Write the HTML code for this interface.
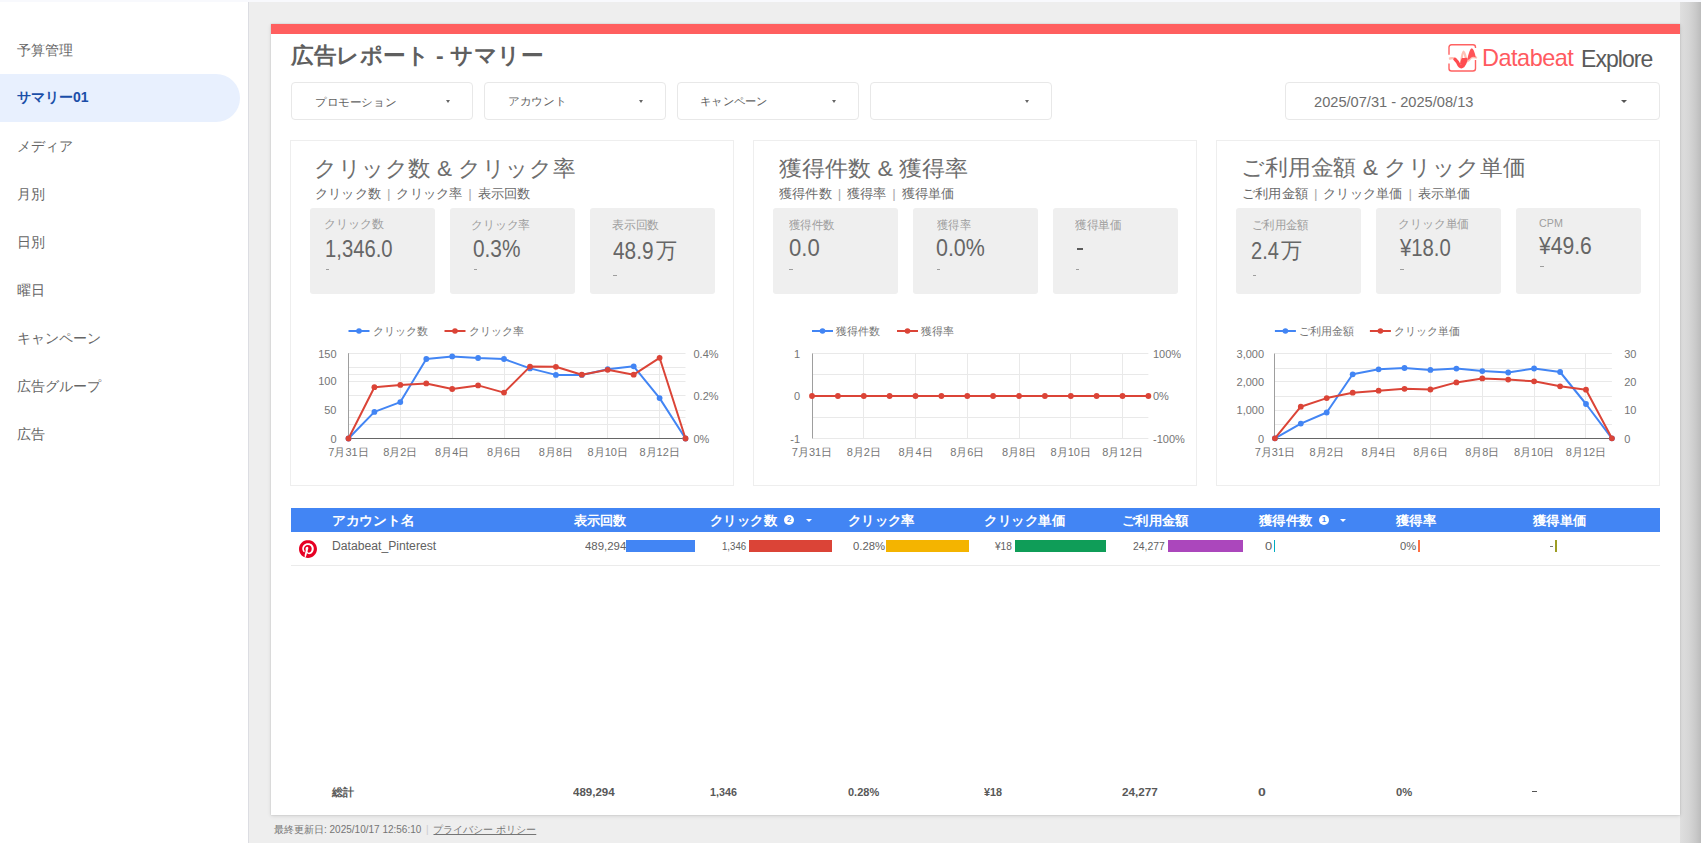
<!DOCTYPE html><html><head><meta charset="utf-8"><title>広告レポート - サマリー</title><style>
*{margin:0;padding:0;box-sizing:border-box}
html,body{width:1701px;height:843px;overflow:hidden;background:#eeeeee;font-family:"Liberation Sans", sans-serif}
.t{position:absolute;white-space:nowrap;line-height:1}
.abs{position:absolute}
.sx{transform-origin:0 0}
</style></head><body>
<div class="abs" style="left:1680px;top:0;width:21px;height:843px;background:linear-gradient(to right,#dfdfdf 0px,#d6d6d6 9px,#c9c9c9 16px,#bcbcbc 21px)"></div>
<div class="abs" style="left:0;top:0;width:1701px;height:2px;background:#f8f9fd"></div>
<div class="abs" style="left:0;top:2px;width:249px;height:841px;background:#fff;border-right:1px solid #dcdde2"></div>
<div class="abs" style="left:0;top:74px;width:240px;height:48px;background:#e8f0fe;border-radius:0 24px 24px 0"></div>
<div class="t" style="left:17px;top:42.5px;font-size:14px;color:#666666;font-weight:normal;">予算管理</div>
<div class="t" style="left:17px;top:90px;font-size:14px;color:#1a4ea8;font-weight:bold;">サマリー01</div>
<div class="t" style="left:17px;top:138.5px;font-size:14px;color:#666666;font-weight:normal;">メディア</div>
<div class="t" style="left:17px;top:186.5px;font-size:14px;color:#666666;font-weight:normal;">月別</div>
<div class="t" style="left:17px;top:234.5px;font-size:14px;color:#666666;font-weight:normal;">日別</div>
<div class="t" style="left:17px;top:282.5px;font-size:14px;color:#666666;font-weight:normal;">曜日</div>
<div class="t" style="left:17px;top:330.5px;font-size:14px;color:#666666;font-weight:normal;">キャンペーン</div>
<div class="t" style="left:17px;top:378.5px;font-size:14px;color:#666666;font-weight:normal;">広告グループ</div>
<div class="t" style="left:17px;top:426.5px;font-size:14px;color:#666666;font-weight:normal;">広告</div>
<div class="abs" style="left:271px;top:24px;width:1409px;height:791px;background:#fff;box-shadow:0 0 1.5px rgba(0,0,0,.14),0 1px 4px rgba(0,0,0,.12)"></div>
<div class="abs" style="left:271px;top:24px;width:1409px;height:10px;background:#ff5f5f"></div>
<div class="t" style="left:291.00px;top:45.00px;font-size:22.4px;color:#5f5f5f;font-weight:bold;transform:scaleX(1.0266);transform-origin:0 0;">広告レポート - サマリー</div>
<div class="abs" style="left:291px;top:82px;width:182px;height:38px;border:1px solid #e8e8e8;border-radius:4px;background:#fff"></div>
<div class="t" style="left:314.50px;top:97.00px;font-size:11.4px;color:#616161;font-weight:normal;transform:scaleX(1.0564);transform-origin:0 0;">プロモーション</div>
<div class="abs" style="left:445.8px;top:100px;width:0;height:0;border-left:2.5px solid transparent;border-right:2.5px solid transparent;border-top:3px solid #666"></div>
<div class="abs" style="left:484px;top:82px;width:182px;height:38px;border:1px solid #e8e8e8;border-radius:4px;background:#fff"></div>
<div class="t" style="left:508.00px;top:95.50px;font-size:11.4px;color:#616161;font-weight:normal;transform:scaleX(1.0577);transform-origin:0 0;">アカウント</div>
<div class="abs" style="left:638.7px;top:100px;width:0;height:0;border-left:2.5px solid transparent;border-right:2.5px solid transparent;border-top:3px solid #666"></div>
<div class="abs" style="left:677px;top:82px;width:182px;height:38px;border:1px solid #e8e8e8;border-radius:4px;background:#fff"></div>
<div class="t" style="left:699.50px;top:96.00px;font-size:11.4px;color:#616161;font-weight:normal;transform:scaleX(1.0256);transform-origin:0 0;">キャンペーン</div>
<div class="abs" style="left:832.1px;top:100px;width:0;height:0;border-left:2.5px solid transparent;border-right:2.5px solid transparent;border-top:3px solid #666"></div>
<div class="abs" style="left:870px;top:82px;width:182px;height:38px;border:1px solid #e8e8e8;border-radius:4px;background:#fff"></div>
<div class="abs" style="left:1024.8px;top:100px;width:0;height:0;border-left:2.5px solid transparent;border-right:2.5px solid transparent;border-top:3px solid #666"></div>
<div class="abs" style="left:1285px;top:82px;width:375px;height:38px;border:1px solid #e8e8e8;border-radius:4px;background:#fff"></div>
<div class="t" style="left:1314.00px;top:94.50px;font-size:14px;color:#6e6e6e;font-weight:normal;transform:scaleX(1.0448);transform-origin:0 0;">2025/07/31 - 2025/08/13</div>
<div class="abs" style="left:1621.3px;top:99.5px;width:0;height:0;border-left:3.5px solid transparent;border-right:3.5px solid transparent;border-top:3.5px solid #555"></div>
<svg class="abs" style="left:1445px;top:41px" width="35" height="34" viewBox="0 0 35 34">
<path d="M4 13.7 V6.3 Q4 3.8 6.5 3.8 H28 Q30.5 3.8 30.5 6.3 V7" fill="none" stroke="#ff6262" stroke-width="1.4"/>
<path d="M4 22.6 V27.5 Q4 30 6.5 30 H28 Q30.5 30 30.5 27.5 V19" fill="none" stroke="#ff6262" stroke-width="1.4"/>
<path d="M5 17.5 Q8 16.5 10 18 M16 22 Q17.5 11 18.4 10.8 Q19.5 11 21 18 M21.5 20.5 Q24 20 26 16.5 Q28.5 15.5 31 16.5" fill="none" stroke="#ffc0b5" stroke-width="2.4" stroke-linecap="round"/>
<path d="M10 18.3 Q12 20 14 24 Q15.8 26.8 18 25 Q20 23 21 18.5" fill="none" stroke="#ff4c50" stroke-width="3.4" stroke-linecap="round"/>
<path d="M15 23 Q16 18 17 17 L20.8 17 Q20.5 22 18 25 Z" fill="#ff4c50"/>
<path d="M22.3 18.5 Q24.5 7.5 26.8 7.2 Q29 7.5 30.8 16.5 Q28 15 25.5 17 Q24 19.5 22.3 18.5Z" fill="#ff5458"/>
</svg><div class="t" style="left:1482.30px;top:46.40px;font-size:24px;color:#ff5a5f;font-weight:normal;transform:scaleX(0.9785);transform-origin:0 0;letter-spacing:-0.5px">Databeat</div>
<div class="t" style="left:1580.60px;top:46.60px;font-size:24px;color:#5a5a5a;font-weight:normal;transform:scaleX(0.9591);transform-origin:0 0;letter-spacing:-1px">Explore</div>
<div class="abs" style="left:290.4px;top:140px;width:444px;height:346px;border:1px solid #eeeeee;background:#fff"></div>
<div class="t" style="left:314.20px;top:158.40px;font-size:22px;color:#6e6e6e;font-weight:normal;transform:scaleX(1.0243);transform-origin:0 0;">クリック数 &amp; クリック率</div>
<div class="t" style="left:315.20px;top:187.40px;font-size:13.3px;color:#6a6a6a;font-weight:normal;transform:scaleX(1.0182);transform-origin:0 0;">クリック数<span style="color:#aaa;margin:0 2px"> | </span>クリック率<span style="color:#aaa;margin:0 2px"> | </span>表示回数</div>
<div class="abs" style="left:309.7px;top:208px;width:125.3px;height:86px;background:#efefef;border-radius:3px"></div>
<div class="t" style="left:323.80px;top:219.40px;font-size:11.8px;color:#9e9e9e;font-weight:normal;transform:scaleX(1.0009);transform-origin:0 0;">クリック数</div>
<div class="t" style="left:324.60px;top:237.80px;font-size:23.6px;color:#666666;font-weight:normal;transform:scaleX(0.8580);transform-origin:0 0;">1,346.0</div>
<div class="abs" style="left:325.9px;top:268.8px;width:3.5px;height:1px;background:#9e9e9e"></div>
<div class="abs" style="left:449.7px;top:208px;width:125.3px;height:86px;background:#efefef;border-radius:3px"></div>
<div class="t" style="left:471.20px;top:220.00px;font-size:11.8px;color:#9e9e9e;font-weight:normal;transform:scaleX(0.9864);transform-origin:0 0;">クリック率</div>
<div class="t" style="left:473.20px;top:237.60px;font-size:23.6px;color:#666666;font-weight:normal;transform:scaleX(0.8817);transform-origin:0 0;">0.3%</div>
<div class="abs" style="left:473.6px;top:268.8px;width:3.5px;height:1px;background:#9e9e9e"></div>
<div class="abs" style="left:589.7px;top:208px;width:125.3px;height:86px;background:#efefef;border-radius:3px"></div>
<div class="t" style="left:612.40px;top:220.00px;font-size:11.8px;color:#9e9e9e;font-weight:normal;transform:scaleX(0.9796);transform-origin:0 0;">表示回数</div>
<div class="t" style="left:613.00px;top:240.40px;font-size:23.6px;color:#666666;font-weight:normal;transform:scaleX(0.8821);transform-origin:0 0;">48.9</div>
<div class="t" style="left:655.80px;top:240.10px;font-size:22px;color:#666666;font-weight:normal;transform:scaleX(0.9554);transform-origin:0 0;">万</div>
<div class="abs" style="left:613px;top:274.8px;width:3.5px;height:1px;background:#9e9e9e"></div>
<div class="abs" style="left:753.4px;top:140px;width:444px;height:346px;border:1px solid #eeeeee;background:#fff"></div>
<div class="t" style="left:779.20px;top:158.40px;font-size:22px;color:#6e6e6e;font-weight:normal;transform:scaleX(1.0469);transform-origin:0 0;">獲得件数 &amp; 獲得率</div>
<div class="t" style="left:779.20px;top:187.40px;font-size:13.3px;color:#6a6a6a;font-weight:normal;transform:scaleX(1.0162);transform-origin:0 0;">獲得件数<span style="color:#aaa;margin:0 2px"> | </span>獲得率<span style="color:#aaa;margin:0 2px"> | </span>獲得単価</div>
<div class="abs" style="left:772.7px;top:208px;width:125.3px;height:86px;background:#efefef;border-radius:3px"></div>
<div class="t" style="left:788.80px;top:220.00px;font-size:11.8px;color:#9e9e9e;font-weight:normal;transform:scaleX(0.9550);transform-origin:0 0;">獲得件数</div>
<div class="t" style="left:788.80px;top:237.20px;font-size:23.6px;color:#666666;font-weight:normal;transform:scaleX(0.9365);transform-origin:0 0;">0.0</div>
<div class="abs" style="left:789px;top:268.8px;width:3.5px;height:1px;background:#9e9e9e"></div>
<div class="abs" style="left:912.7px;top:208px;width:125.3px;height:86px;background:#efefef;border-radius:3px"></div>
<div class="t" style="left:936.60px;top:220.00px;font-size:11.8px;color:#9e9e9e;font-weight:normal;transform:scaleX(0.9391);transform-origin:0 0;">獲得率</div>
<div class="t" style="left:936.40px;top:237.20px;font-size:23.6px;color:#666666;font-weight:normal;transform:scaleX(0.9083);transform-origin:0 0;">0.0%</div>
<div class="abs" style="left:936.7px;top:268.8px;width:3.5px;height:1px;background:#9e9e9e"></div>
<div class="abs" style="left:1052.7px;top:208px;width:125.3px;height:86px;background:#efefef;border-radius:3px"></div>
<div class="t" style="left:1075.40px;top:220.00px;font-size:11.8px;color:#9e9e9e;font-weight:normal;transform:scaleX(0.9787);transform-origin:0 0;">獲得単価</div>
<div class="abs" style="left:1077px;top:247.6px;width:6.3px;height:2px;background:#5a5a5a"></div>
<div class="abs" style="left:1075.7px;top:268.8px;width:3.5px;height:1px;background:#9e9e9e"></div>
<div class="abs" style="left:1216.4px;top:140px;width:444px;height:346px;border:1px solid #eeeeee;background:#fff"></div>
<div class="t" style="left:1241.20px;top:157.40px;font-size:22px;color:#6e6e6e;font-weight:normal;transform:scaleX(1.0389);transform-origin:0 0;">ご利用金額 &amp; クリック単価</div>
<div class="t" style="left:1242.20px;top:187.40px;font-size:13.3px;color:#6a6a6a;font-weight:normal;transform:scaleX(1.0174);transform-origin:0 0;">ご利用金額<span style="color:#aaa;margin:0 2px"> | </span>クリック単価<span style="color:#aaa;margin:0 2px"> | </span>表示単価</div>
<div class="abs" style="left:1235.7px;top:208px;width:125.3px;height:86px;background:#efefef;border-radius:3px"></div>
<div class="t" style="left:1252.20px;top:220.40px;font-size:11.8px;color:#9e9e9e;font-weight:normal;transform:scaleX(0.9466);transform-origin:0 0;">ご利用金額</div>
<div class="t" style="left:1251.00px;top:240.40px;font-size:23.6px;color:#666666;font-weight:normal;transform:scaleX(0.8487);transform-origin:0 0;">2.4</div>
<div class="t" style="left:1281.30px;top:239.80px;font-size:22px;color:#666666;font-weight:normal;transform:scaleX(0.9552);transform-origin:0 0;">万</div>
<div class="abs" style="left:1252.5px;top:275.0px;width:3.5px;height:1px;background:#9e9e9e"></div>
<div class="abs" style="left:1375.7px;top:208px;width:125.3px;height:86px;background:#efefef;border-radius:3px"></div>
<div class="t" style="left:1398.20px;top:219.00px;font-size:11.8px;color:#9e9e9e;font-weight:normal;transform:scaleX(0.9902);transform-origin:0 0;">クリック単価</div>
<div class="t" style="left:1400.20px;top:237.20px;font-size:23.6px;color:#666666;font-weight:normal;transform:scaleX(0.8604);transform-origin:0 0;">¥18.0</div>
<div class="abs" style="left:1400.1px;top:268.7px;width:3.5px;height:1px;background:#9e9e9e"></div>
<div class="abs" style="left:1515.7px;top:208px;width:125.3px;height:86px;background:#efefef;border-radius:3px"></div>
<div class="t" style="left:1539.00px;top:218.00px;font-size:11px;color:#9e9e9e;font-weight:normal;transform:scaleX(0.9745);transform-origin:0 0;">CPM</div>
<div class="t" style="left:1539.00px;top:234.60px;font-size:23.6px;color:#666666;font-weight:normal;transform:scaleX(0.8941);transform-origin:0 0;">¥49.6</div>
<div class="abs" style="left:1540px;top:265.7px;width:3.5px;height:1px;background:#9e9e9e"></div>
<div class="abs" style="left:291px;top:508px;width:1369px;height:24px;background:#4285f4"></div>
<div class="abs" style="left:291px;top:565px;width:1369px;height:1px;background:#ebebeb"></div>
<div class="t" style="left:331.50px;top:514.00px;font-size:13.2px;color:#ffffff;font-weight:bold;transform:scaleX(1.0555);transform-origin:0 0;">アカウント名</div>
<div class="t" style="left:573.50px;top:514.00px;font-size:13.2px;color:#ffffff;font-weight:bold;transform:scaleX(1.0125);transform-origin:0 0;">表示回数</div>
<div class="t" style="left:709.50px;top:514.00px;font-size:13.2px;color:#ffffff;font-weight:bold;transform:scaleX(1.0322);transform-origin:0 0;">クリック数</div>
<div class="t" style="left:847.50px;top:514.00px;font-size:13.2px;color:#ffffff;font-weight:bold;transform:scaleX(1.0288);transform-origin:0 0;">クリック率</div>
<div class="t" style="left:984.00px;top:514.00px;font-size:13.2px;color:#ffffff;font-weight:bold;transform:scaleX(1.0390);transform-origin:0 0;">クリック単価</div>
<div class="t" style="left:1121.50px;top:514.00px;font-size:13.2px;color:#ffffff;font-weight:bold;transform:scaleX(1.0250);transform-origin:0 0;">ご利用金額</div>
<div class="t" style="left:1258.50px;top:514.00px;font-size:13.2px;color:#ffffff;font-weight:bold;transform:scaleX(1.0313);transform-origin:0 0;">獲得件数</div>
<div class="t" style="left:1396.00px;top:514.00px;font-size:13.2px;color:#ffffff;font-weight:bold;transform:scaleX(1.0287);transform-origin:0 0;">獲得率</div>
<div class="t" style="left:1533.00px;top:514.00px;font-size:13.2px;color:#ffffff;font-weight:bold;transform:scaleX(1.0315);transform-origin:0 0;">獲得単価</div>
<div class="abs" style="left:784.2px;top:515px;width:10px;height:10px;border-radius:5px;background:#fff;color:#4285f4;font-size:8px;font-weight:bold;line-height:10px;text-align:center">2</div>
<div class="abs" style="left:1319px;top:515px;width:10px;height:10px;border-radius:5px;background:#fff;color:#4285f4;font-size:8px;font-weight:bold;line-height:10px;text-align:center">1</div>
<div class="abs" style="left:805.5px;top:518.5px;width:0;height:0;border-left:3.0px solid transparent;border-right:3.0px solid transparent;border-top:3.5px solid #fff"></div>
<div class="abs" style="left:1340.3px;top:518.5px;width:0;height:0;border-left:3.0px solid transparent;border-right:3.0px solid transparent;border-top:3.5px solid #fff"></div>
<svg class="abs" style="left:298.8px;top:539.8px" width="18" height="18" viewBox="0 0 24 24"><path fill="#e60023" d="M12.017 0C5.396 0 .029 5.367.029 11.987c0 5.079 3.158 9.417 7.618 11.162-.105-.949-.199-2.403.041-3.439.219-.937 1.406-5.957 1.406-5.957s-.359-.72-.359-1.781c0-1.663.967-2.911 2.168-2.911 1.024 0 1.518.769 1.518 1.688 0 1.029-.653 2.567-.992 3.992-.285 1.193.6 2.165 1.775 2.165 2.128 0 3.768-2.245 3.768-5.487 0-2.861-2.063-4.869-5.008-4.869-3.41 0-5.409 2.562-5.409 5.199 0 1.033.394 2.143.889 2.741.099.12.112.225.085.345-.09.375-.293 1.199-.334 1.363-.053.225-.172.271-.401.165-1.495-.69-2.433-2.878-2.433-4.646 0-3.776 2.748-7.252 7.92-7.252 4.158 0 7.392 2.967 7.392 6.923 0 4.135-2.607 7.462-6.233 7.462-1.214 0-2.354-.629-2.758-1.379l-.749 2.848c-.269 1.045-1.004 2.352-1.498 3.146 1.123.345 2.306.535 3.55.535 6.607 0 11.985-5.365 11.985-11.987C23.97 5.39 18.592.026 11.985.026L12.017 0z"/></svg>
<div class="t" style="left:331.50px;top:540.00px;font-size:12px;color:#616161;font-weight:normal;transform:scaleX(1.0140);transform-origin:0 0;">Databeat_Pinterest</div>
<div class="t" style="left:584.50px;top:540.00px;font-size:11.7px;color:#616161;font-weight:normal;transform:scaleX(0.9757);transform-origin:0 0;">489,294</div>
<div class="abs" style="left:626.2px;top:540px;width:68.8px;height:12px;background:#4285f4"></div>
<div class="t" style="left:721.50px;top:540.00px;font-size:11.7px;color:#616161;font-weight:normal;transform:scaleX(0.8254);transform-origin:0 0;">1,346</div>
<div class="abs" style="left:748.6px;top:540px;width:83.1px;height:12px;background:#db4437"></div>
<div class="t" style="left:852.50px;top:540.00px;font-size:11.7px;color:#616161;font-weight:normal;transform:scaleX(0.9677);transform-origin:0 0;">0.28%</div>
<div class="abs" style="left:886px;top:540px;width:82.5px;height:12px;background:#f4b400"></div>
<div class="t" style="left:995.00px;top:540.00px;font-size:11.7px;color:#616161;font-weight:normal;transform:scaleX(0.8653);transform-origin:0 0;">¥18</div>
<div class="abs" style="left:1015px;top:540px;width:91.0px;height:12px;background:#0f9d58"></div>
<div class="t" style="left:1133.00px;top:540.00px;font-size:11.7px;color:#616161;font-weight:normal;transform:scaleX(0.8877);transform-origin:0 0;">24,277</div>
<div class="abs" style="left:1167.6px;top:540px;width:75.1px;height:12px;background:#ab47bc"></div>
<div class="t" style="left:1264.50px;top:540.00px;font-size:11.7px;color:#616161;font-weight:normal;transform:scaleX(1.1064);transform-origin:0 0;">0</div>
<div class="abs" style="left:1273.5px;top:540px;width:1.5px;height:12px;background:#00acc1"></div>
<div class="t" style="left:1400.00px;top:540.00px;font-size:11.7px;color:#616161;font-weight:normal;transform:scaleX(0.9577);transform-origin:0 0;">0%</div>
<div class="abs" style="left:1418.3px;top:540px;width:1.5px;height:12px;background:#ff7043"></div>
<div class="abs" style="left:1549.5px;top:546px;width:3.3px;height:1px;background:#777"></div>
<div class="abs" style="left:1555.3px;top:540px;width:1.5px;height:12px;background:#9e9d24"></div>
<div class="t" style="left:332.00px;top:787.00px;font-size:10.5px;color:#585858;font-weight:bold;transform:scaleX(1.0092);transform-origin:0 0;">総計</div>
<div class="t" style="left:573.00px;top:786.50px;font-size:10.5px;color:#585858;font-weight:bold;transform:scaleX(1.0983);transform-origin:0 0;">489,294</div>
<div class="t" style="left:710.00px;top:786.50px;font-size:10.5px;color:#585858;font-weight:bold;transform:scaleX(1.0239);transform-origin:0 0;">1,346</div>
<div class="t" style="left:847.50px;top:786.50px;font-size:10.5px;color:#585858;font-weight:bold;transform:scaleX(1.0473);transform-origin:0 0;">0.28%</div>
<div class="t" style="left:984.00px;top:786.50px;font-size:10.5px;color:#585858;font-weight:bold;transform:scaleX(1.0287);transform-origin:0 0;">¥18</div>
<div class="t" style="left:1122.00px;top:786.50px;font-size:10.5px;color:#585858;font-weight:bold;transform:scaleX(1.1140);transform-origin:0 0;">24,277</div>
<div class="t" style="left:1257.50px;top:786.50px;font-size:10.5px;color:#585858;font-weight:bold;transform:scaleX(1.3321);transform-origin:0 0;">0</div>
<div class="t" style="left:1395.50px;top:786.50px;font-size:10.5px;color:#585858;font-weight:bold;transform:scaleX(1.0693);transform-origin:0 0;">0%</div>
<div class="abs" style="left:1532.4px;top:791px;width:4.2px;height:1.2px;background:#555"></div>
<div class="t" style="left:274px;top:824.5px;font-size:10px;color:#757575">最終更新日: 2025/10/17 12:56:10 <span style="color:#ccc;margin:0 2px">|</span> <span style="text-decoration:underline;text-underline-offset:1px">プライバシー ポリシー</span></div>
<svg class="abs" style="left:0;top:0" width="1701" height="843" viewBox="0 0 1701 843" font-family="Liberation Sans, sans-serif">
<line x1="348.5" y1="353.5" x2="685.5" y2="353.5" stroke="#e9e9e9" stroke-width="1"/>
<line x1="348.5" y1="367.5" x2="685.5" y2="367.5" stroke="#e9e9e9" stroke-width="1"/>
<line x1="348.5" y1="374.5" x2="685.5" y2="374.5" stroke="#e9e9e9" stroke-width="1"/>
<line x1="348.5" y1="381.5" x2="685.5" y2="381.5" stroke="#e9e9e9" stroke-width="1"/>
<line x1="348.5" y1="395.5" x2="685.5" y2="395.5" stroke="#e9e9e9" stroke-width="1"/>
<line x1="348.5" y1="410.5" x2="685.5" y2="410.5" stroke="#e9e9e9" stroke-width="1"/>
<line x1="348.5" y1="417.5" x2="685.5" y2="417.5" stroke="#e9e9e9" stroke-width="1"/>
<line x1="348.5" y1="424.5" x2="685.5" y2="424.5" stroke="#e9e9e9" stroke-width="1"/>
<line x1="400.5" y1="353.2" x2="400.5" y2="438.2" stroke="#e9e9e9" stroke-width="1"/>
<line x1="452.5" y1="353.2" x2="452.5" y2="438.2" stroke="#e9e9e9" stroke-width="1"/>
<line x1="504.5" y1="353.2" x2="504.5" y2="438.2" stroke="#e9e9e9" stroke-width="1"/>
<line x1="555.5" y1="353.2" x2="555.5" y2="438.2" stroke="#e9e9e9" stroke-width="1"/>
<line x1="607.5" y1="353.2" x2="607.5" y2="438.2" stroke="#e9e9e9" stroke-width="1"/>
<line x1="659.5" y1="353.2" x2="659.5" y2="438.2" stroke="#e9e9e9" stroke-width="1"/>
<line x1="348.5" y1="353.2" x2="348.5" y2="438.2" stroke="#9e9e9e" stroke-width="1"/>
<line x1="348.5" y1="438.5" x2="685.5" y2="438.5" stroke="#666" stroke-width="1"/>
<polyline points="348.5,438.5 374.4,411.9 400.3,402.1 426.3,359.0 452.2,356.4 478.1,358.0 504.0,359.0 530.0,368.4 555.9,374.9 581.8,374.9 607.7,369.2 633.7,366.3 659.6,398.1 685.5,438.5" fill="none" stroke="#4285f4" stroke-width="2" stroke-linejoin="round"/>
<circle cx="348.5" cy="438.5" r="2.9" fill="#4285f4"/>
<circle cx="374.4" cy="411.9" r="2.9" fill="#4285f4"/>
<circle cx="400.3" cy="402.1" r="2.9" fill="#4285f4"/>
<circle cx="426.3" cy="359.0" r="2.9" fill="#4285f4"/>
<circle cx="452.2" cy="356.4" r="2.9" fill="#4285f4"/>
<circle cx="478.1" cy="358.0" r="2.9" fill="#4285f4"/>
<circle cx="504.0" cy="359.0" r="2.9" fill="#4285f4"/>
<circle cx="530.0" cy="368.4" r="2.9" fill="#4285f4"/>
<circle cx="555.9" cy="374.9" r="2.9" fill="#4285f4"/>
<circle cx="581.8" cy="374.9" r="2.9" fill="#4285f4"/>
<circle cx="607.7" cy="369.2" r="2.9" fill="#4285f4"/>
<circle cx="633.7" cy="366.3" r="2.9" fill="#4285f4"/>
<circle cx="659.6" cy="398.1" r="2.9" fill="#4285f4"/>
<circle cx="685.5" cy="438.5" r="2.9" fill="#4285f4"/>
<polyline points="348.5,438.5 374.4,387.2 400.3,384.9 426.3,383.4 452.2,389.0 478.1,385.4 504.0,392.6 530.0,366.6 555.9,366.8 581.8,374.7 607.7,369.8 633.7,374.7 659.6,357.8 685.5,438.5" fill="none" stroke="#db4437" stroke-width="2" stroke-linejoin="round"/>
<circle cx="348.5" cy="438.5" r="2.9" fill="#db4437"/>
<circle cx="374.4" cy="387.2" r="2.9" fill="#db4437"/>
<circle cx="400.3" cy="384.9" r="2.9" fill="#db4437"/>
<circle cx="426.3" cy="383.4" r="2.9" fill="#db4437"/>
<circle cx="452.2" cy="389.0" r="2.9" fill="#db4437"/>
<circle cx="478.1" cy="385.4" r="2.9" fill="#db4437"/>
<circle cx="504.0" cy="392.6" r="2.9" fill="#db4437"/>
<circle cx="530.0" cy="366.6" r="2.9" fill="#db4437"/>
<circle cx="555.9" cy="366.8" r="2.9" fill="#db4437"/>
<circle cx="581.8" cy="374.7" r="2.9" fill="#db4437"/>
<circle cx="607.7" cy="369.8" r="2.9" fill="#db4437"/>
<circle cx="633.7" cy="374.7" r="2.9" fill="#db4437"/>
<circle cx="659.6" cy="357.8" r="2.9" fill="#db4437"/>
<circle cx="685.5" cy="438.5" r="2.9" fill="#db4437"/>
<text x="348.5" y="456" font-size="11" fill="#757575" text-anchor="middle">7月31日</text>
<text x="400.3" y="456" font-size="11" fill="#757575" text-anchor="middle">8月2日</text>
<text x="452.2" y="456" font-size="11" fill="#757575" text-anchor="middle">8月4日</text>
<text x="504.0" y="456" font-size="11" fill="#757575" text-anchor="middle">8月6日</text>
<text x="555.9" y="456" font-size="11" fill="#757575" text-anchor="middle">8月8日</text>
<text x="607.7" y="456" font-size="11" fill="#757575" text-anchor="middle">8月10日</text>
<text x="659.6" y="456" font-size="11" fill="#757575" text-anchor="middle">8月12日</text>
<text x="336.5" y="358.4" font-size="11" fill="#757575" text-anchor="end">150</text>
<text x="336.5" y="385.4" font-size="11" fill="#757575" text-anchor="end">100</text>
<text x="336.5" y="414" font-size="11" fill="#757575" text-anchor="end">50</text>
<text x="336.5" y="442.8" font-size="11" fill="#757575" text-anchor="end">0</text>
<text x="693.5" y="358.4" font-size="11" fill="#757575">0.4%</text>
<text x="693.5" y="400" font-size="11" fill="#757575">0.2%</text>
<text x="693.5" y="442.8" font-size="11" fill="#757575">0%</text>
<line x1="348.5" y1="331" x2="369.5" y2="331" stroke="#4285f4" stroke-width="2"/>
<circle cx="359.0" cy="331" r="2.8" fill="#4285f4"/>
<text x="372.8" y="335" font-size="10.6" fill="#757575">クリック数</text>
<line x1="444.5" y1="331" x2="465.5" y2="331" stroke="#db4437" stroke-width="2"/>
<circle cx="455.0" cy="331" r="2.8" fill="#db4437"/>
<text x="468.8" y="335" font-size="10.6" fill="#757575">クリック率</text>
<line x1="812" y1="353.5" x2="1148.4" y2="353.5" stroke="#e9e9e9" stroke-width="1"/>
<line x1="812" y1="374.5" x2="1148.4" y2="374.5" stroke="#e9e9e9" stroke-width="1"/>
<line x1="812" y1="417.5" x2="1148.4" y2="417.5" stroke="#e9e9e9" stroke-width="1"/>
<line x1="812" y1="438.5" x2="1148.4" y2="438.5" stroke="#e9e9e9" stroke-width="1"/>
<line x1="863.5" y1="353.5" x2="863.5" y2="438.4" stroke="#e9e9e9" stroke-width="1"/>
<line x1="915.5" y1="353.5" x2="915.5" y2="438.4" stroke="#e9e9e9" stroke-width="1"/>
<line x1="967.5" y1="353.5" x2="967.5" y2="438.4" stroke="#e9e9e9" stroke-width="1"/>
<line x1="1019.5" y1="353.5" x2="1019.5" y2="438.4" stroke="#e9e9e9" stroke-width="1"/>
<line x1="1070.5" y1="353.5" x2="1070.5" y2="438.4" stroke="#e9e9e9" stroke-width="1"/>
<line x1="1122.5" y1="353.5" x2="1122.5" y2="438.4" stroke="#e9e9e9" stroke-width="1"/>
<line x1="812.5" y1="353.5" x2="812.5" y2="438.4" stroke="#9e9e9e" stroke-width="1"/>
<polyline points="812.0,396.0 837.9,396.0 863.8,396.0 889.6,396.0 915.5,396.0 941.4,396.0 967.3,396.0 993.1,396.0 1019.0,396.0 1044.9,396.0 1070.8,396.0 1096.6,396.0 1122.5,396.0 1148.4,396.0" fill="none" stroke="#db4437" stroke-width="2" stroke-linejoin="round"/>
<circle cx="812.0" cy="396.0" r="2.9" fill="#db4437"/>
<circle cx="837.9" cy="396.0" r="2.9" fill="#db4437"/>
<circle cx="863.8" cy="396.0" r="2.9" fill="#db4437"/>
<circle cx="889.6" cy="396.0" r="2.9" fill="#db4437"/>
<circle cx="915.5" cy="396.0" r="2.9" fill="#db4437"/>
<circle cx="941.4" cy="396.0" r="2.9" fill="#db4437"/>
<circle cx="967.3" cy="396.0" r="2.9" fill="#db4437"/>
<circle cx="993.1" cy="396.0" r="2.9" fill="#db4437"/>
<circle cx="1019.0" cy="396.0" r="2.9" fill="#db4437"/>
<circle cx="1044.9" cy="396.0" r="2.9" fill="#db4437"/>
<circle cx="1070.8" cy="396.0" r="2.9" fill="#db4437"/>
<circle cx="1096.6" cy="396.0" r="2.9" fill="#db4437"/>
<circle cx="1122.5" cy="396.0" r="2.9" fill="#db4437"/>
<circle cx="1148.4" cy="396.0" r="2.9" fill="#db4437"/>
<text x="812.0" y="456" font-size="11" fill="#757575" text-anchor="middle">7月31日</text>
<text x="863.8" y="456" font-size="11" fill="#757575" text-anchor="middle">8月2日</text>
<text x="915.5" y="456" font-size="11" fill="#757575" text-anchor="middle">8月4日</text>
<text x="967.3" y="456" font-size="11" fill="#757575" text-anchor="middle">8月6日</text>
<text x="1019.0" y="456" font-size="11" fill="#757575" text-anchor="middle">8月8日</text>
<text x="1070.8" y="456" font-size="11" fill="#757575" text-anchor="middle">8月10日</text>
<text x="1122.5" y="456" font-size="11" fill="#757575" text-anchor="middle">8月12日</text>
<text x="800" y="358.2" font-size="11" fill="#757575" text-anchor="end">1</text>
<text x="800" y="400" font-size="11" fill="#757575" text-anchor="end">0</text>
<text x="800" y="442.9" font-size="11" fill="#757575" text-anchor="end">-1</text>
<text x="1153.0" y="358.2" font-size="11" fill="#757575">100%</text>
<text x="1153.0" y="400" font-size="11" fill="#757575">0%</text>
<text x="1153.0" y="442.9" font-size="11" fill="#757575">-100%</text>
<line x1="812" y1="331" x2="833" y2="331" stroke="#4285f4" stroke-width="2"/>
<circle cx="822.5" cy="331" r="2.8" fill="#4285f4"/>
<text x="836.3" y="335" font-size="10.6" fill="#757575">獲得件数</text>
<line x1="897" y1="331" x2="918" y2="331" stroke="#db4437" stroke-width="2"/>
<circle cx="907.5" cy="331" r="2.8" fill="#db4437"/>
<text x="921.3" y="335" font-size="10.6" fill="#757575">獲得率</text>
<line x1="1274.9" y1="353.5" x2="1611.9" y2="353.5" stroke="#e9e9e9" stroke-width="1"/>
<line x1="1274.9" y1="368.5" x2="1611.9" y2="368.5" stroke="#e9e9e9" stroke-width="1"/>
<line x1="1274.9" y1="381.5" x2="1611.9" y2="381.5" stroke="#e9e9e9" stroke-width="1"/>
<line x1="1274.9" y1="396.5" x2="1611.9" y2="396.5" stroke="#e9e9e9" stroke-width="1"/>
<line x1="1274.9" y1="410.5" x2="1611.9" y2="410.5" stroke="#e9e9e9" stroke-width="1"/>
<line x1="1274.9" y1="424.5" x2="1611.9" y2="424.5" stroke="#e9e9e9" stroke-width="1"/>
<line x1="1326.5" y1="353.5" x2="1326.5" y2="438.3" stroke="#e9e9e9" stroke-width="1"/>
<line x1="1378.5" y1="353.5" x2="1378.5" y2="438.3" stroke="#e9e9e9" stroke-width="1"/>
<line x1="1430.5" y1="353.5" x2="1430.5" y2="438.3" stroke="#e9e9e9" stroke-width="1"/>
<line x1="1482.5" y1="353.5" x2="1482.5" y2="438.3" stroke="#e9e9e9" stroke-width="1"/>
<line x1="1534.5" y1="353.5" x2="1534.5" y2="438.3" stroke="#e9e9e9" stroke-width="1"/>
<line x1="1585.5" y1="353.5" x2="1585.5" y2="438.3" stroke="#e9e9e9" stroke-width="1"/>
<line x1="1274.5" y1="353.5" x2="1274.5" y2="438.3" stroke="#9e9e9e" stroke-width="1"/>
<line x1="1274.9" y1="438.5" x2="1611.9" y2="438.5" stroke="#666" stroke-width="1"/>
<polyline points="1274.9,438.3 1300.8,423.6 1326.7,412.5 1352.7,374.3 1378.6,369.3 1404.5,368.0 1430.4,369.9 1456.4,368.6 1482.3,371.1 1508.2,372.5 1534.1,368.5 1560.1,372.0 1586.0,404.0 1611.9,438.3" fill="none" stroke="#4285f4" stroke-width="2" stroke-linejoin="round"/>
<circle cx="1274.9" cy="438.3" r="2.9" fill="#4285f4"/>
<circle cx="1300.8" cy="423.6" r="2.9" fill="#4285f4"/>
<circle cx="1326.7" cy="412.5" r="2.9" fill="#4285f4"/>
<circle cx="1352.7" cy="374.3" r="2.9" fill="#4285f4"/>
<circle cx="1378.6" cy="369.3" r="2.9" fill="#4285f4"/>
<circle cx="1404.5" cy="368.0" r="2.9" fill="#4285f4"/>
<circle cx="1430.4" cy="369.9" r="2.9" fill="#4285f4"/>
<circle cx="1456.4" cy="368.6" r="2.9" fill="#4285f4"/>
<circle cx="1482.3" cy="371.1" r="2.9" fill="#4285f4"/>
<circle cx="1508.2" cy="372.5" r="2.9" fill="#4285f4"/>
<circle cx="1534.1" cy="368.5" r="2.9" fill="#4285f4"/>
<circle cx="1560.1" cy="372.0" r="2.9" fill="#4285f4"/>
<circle cx="1586.0" cy="404.0" r="2.9" fill="#4285f4"/>
<circle cx="1611.9" cy="438.3" r="2.9" fill="#4285f4"/>
<polyline points="1274.9,438.3 1300.8,406.7 1326.7,398.1 1352.7,392.7 1378.6,390.7 1404.5,388.8 1430.4,389.5 1456.4,382.4 1482.3,378.4 1508.2,379.6 1534.1,381.3 1560.1,386.3 1586.0,389.7 1611.9,438.3" fill="none" stroke="#db4437" stroke-width="2" stroke-linejoin="round"/>
<circle cx="1274.9" cy="438.3" r="2.9" fill="#db4437"/>
<circle cx="1300.8" cy="406.7" r="2.9" fill="#db4437"/>
<circle cx="1326.7" cy="398.1" r="2.9" fill="#db4437"/>
<circle cx="1352.7" cy="392.7" r="2.9" fill="#db4437"/>
<circle cx="1378.6" cy="390.7" r="2.9" fill="#db4437"/>
<circle cx="1404.5" cy="388.8" r="2.9" fill="#db4437"/>
<circle cx="1430.4" cy="389.5" r="2.9" fill="#db4437"/>
<circle cx="1456.4" cy="382.4" r="2.9" fill="#db4437"/>
<circle cx="1482.3" cy="378.4" r="2.9" fill="#db4437"/>
<circle cx="1508.2" cy="379.6" r="2.9" fill="#db4437"/>
<circle cx="1534.1" cy="381.3" r="2.9" fill="#db4437"/>
<circle cx="1560.1" cy="386.3" r="2.9" fill="#db4437"/>
<circle cx="1586.0" cy="389.7" r="2.9" fill="#db4437"/>
<circle cx="1611.9" cy="438.3" r="2.9" fill="#db4437"/>
<text x="1274.9" y="456" font-size="11" fill="#757575" text-anchor="middle">7月31日</text>
<text x="1326.7" y="456" font-size="11" fill="#757575" text-anchor="middle">8月2日</text>
<text x="1378.6" y="456" font-size="11" fill="#757575" text-anchor="middle">8月4日</text>
<text x="1430.4" y="456" font-size="11" fill="#757575" text-anchor="middle">8月6日</text>
<text x="1482.3" y="456" font-size="11" fill="#757575" text-anchor="middle">8月8日</text>
<text x="1534.1" y="456" font-size="11" fill="#757575" text-anchor="middle">8月10日</text>
<text x="1586.0" y="456" font-size="11" fill="#757575" text-anchor="middle">8月12日</text>
<text x="1264.1000000000001" y="358.2" font-size="11" fill="#757575" text-anchor="end">3,000</text>
<text x="1264.1000000000001" y="386" font-size="11" fill="#757575" text-anchor="end">2,000</text>
<text x="1264.1000000000001" y="414.4" font-size="11" fill="#757575" text-anchor="end">1,000</text>
<text x="1264.1000000000001" y="442.9" font-size="11" fill="#757575" text-anchor="end">0</text>
<text x="1624.2" y="358.2" font-size="11" fill="#757575">30</text>
<text x="1624.2" y="386" font-size="11" fill="#757575">20</text>
<text x="1624.2" y="414.4" font-size="11" fill="#757575">10</text>
<text x="1624.2" y="442.9" font-size="11" fill="#757575">0</text>
<line x1="1274.9" y1="331" x2="1295.9" y2="331" stroke="#4285f4" stroke-width="2"/>
<circle cx="1285.4" cy="331" r="2.8" fill="#4285f4"/>
<text x="1299.2" y="335" font-size="10.6" fill="#757575">ご利用金額</text>
<line x1="1369.9" y1="331" x2="1390.9" y2="331" stroke="#db4437" stroke-width="2"/>
<circle cx="1380.4" cy="331" r="2.8" fill="#db4437"/>
<text x="1394.2" y="335" font-size="10.6" fill="#757575">クリック単価</text>
</svg>
</body></html>
